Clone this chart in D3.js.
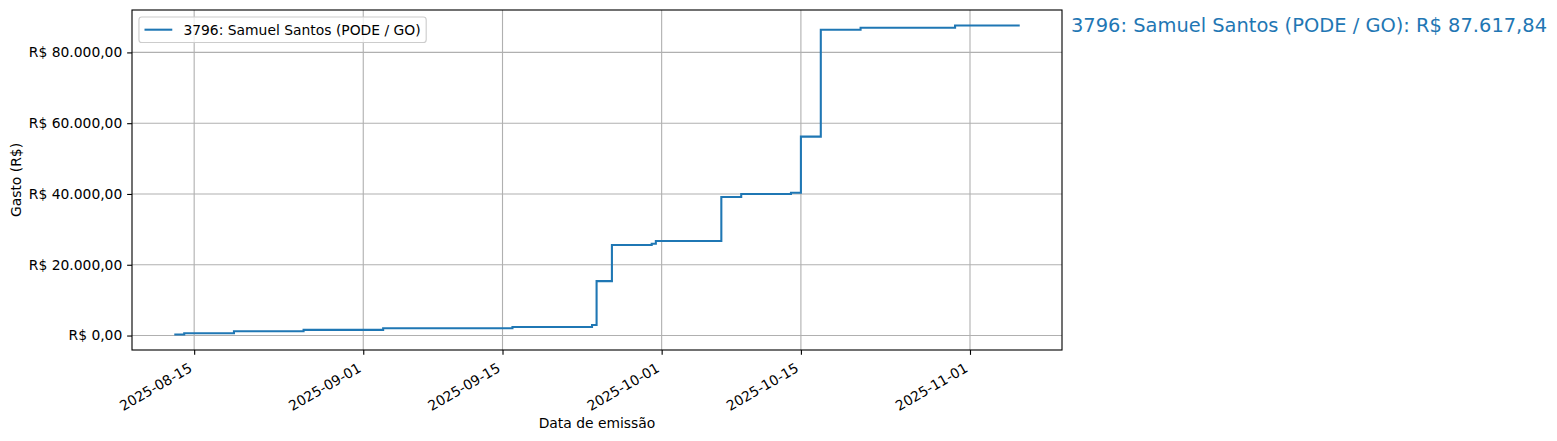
<!DOCTYPE html>
<html>
<head>
<meta charset="utf-8">
<script src="https://cdn.jsdelivr.net/npm/d3@7"></script>
<style>
  html, body { margin: 0; padding: 0; background: #fff; }
  svg { display: block; font-family: "DejaVu Sans", sans-serif; }
</style>
</head>
<body>
<svg id="chart" width="1557" height="441"></svg>
<script>
// ---- data ----
const seriesName = "3796: Samuel Santos (PODE / GO)";
const emissionDates = [
  "2025-08-13T00:00:00Z", "2025-08-14T00:00:00Z", "2025-08-19T00:00:00Z", "2025-08-26T00:00:00Z",
  "2025-09-03T00:00:00Z", "2025-09-16T00:00:00Z", "2025-09-24T00:00:00Z", "2025-09-24T11:00:00Z",
  "2025-09-26T00:00:00Z", "2025-09-30T00:00:00Z", "2025-09-30T10:00:00Z", "2025-10-07T00:00:00Z",
  "2025-10-09T00:00:00Z", "2025-10-14T00:00:00Z", "2025-10-15T00:00:00Z", "2025-10-17T00:00:00Z",
  "2025-10-21T00:00:00Z", "2025-10-30T12:00:00Z", "2025-11-06T00:00:00Z"
];
const cumulativeSpend = [
  280, 650, 1220, 1590,
  2070, 2430, 3000, 15370,
  25560, 25920, 26690, 39140,
  39990, 40360, 56210, 86400,
  86970, 87617.84, 87617.84
];
const xTickLabels = ["2025-08-15", "2025-09-01", "2025-09-15", "2025-10-01", "2025-10-15", "2025-11-01"];
const yTickValues = [0, 20000, 40000, 60000, 80000];
const xAxisTitle = "Data de emissão";
const yAxisTitle = "Gasto (R$)";

// ---- layout ----
const W = 1557, H = 441;
const L = 132, R = 1062, T = 10, B = 350;
const FS = 13.89;
const blue = "#1f77b4";
const LW = 2.08, THIN = 1.11;

const brl = d3.formatLocale({decimal: ",", thousands: ".", grouping: [3], currency: ["R$ ", ""]});
const fmtMoney = brl.format("$,.2f");

const data = emissionDates.map((d, i) => ({date: d3.isoParse(d), value: cumulativeSpend[i]}));

const xExt = d3.extent(data, d => d.date);
const xSpan = xExt[1] - xExt[0];
const x = d3.scaleUtc()
  .domain([new Date(+xExt[0] - 0.05 * xSpan), new Date(+xExt[1] + 0.05 * xSpan)])
  .range([L, R]);

const yExt = d3.extent(data, d => d.value);
const ySpan = yExt[1] - yExt[0];
const y = d3.scaleLinear()
  .domain([yExt[0] - 0.05 * ySpan, yExt[1] + 0.05 * ySpan])
  .range([B, T]);

const svg = d3.select("#chart");

const xTicks = xTickLabels.map(s => d3.isoParse(s + "T00:00:00Z"));

// grid
const grid = svg.append("g").attr("stroke", "#b0b0b0").attr("stroke-width", THIN);
grid.selectAll("line.gx").data(xTicks).join("line")
  .attr("x1", d => x(d)).attr("x2", d => x(d)).attr("y1", T).attr("y2", B);
grid.selectAll("line.gy").data(yTickValues).join("line")
  .attr("x1", L).attr("x2", R).attr("y1", d => y(d)).attr("y2", d => y(d));

// line
const line = d3.line().x(d => x(d.date)).y(d => y(d.value)).curve(d3.curveStepAfter);
svg.append("path").datum(data)
  .attr("d", line)
  .attr("fill", "none")
  .attr("stroke", blue)
  .attr("stroke-width", LW)
  .attr("stroke-linejoin", "miter")
  .attr("stroke-linecap", "butt");

// frame
svg.append("rect").attr("x", L).attr("y", T).attr("width", R - L).attr("height", B - T)
  .attr("fill", "none").attr("stroke", "#000").attr("stroke-width", THIN);

// x axis
const xAxis = d3.axisBottom(x).tickValues(xTicks).tickSize(4.86).tickPadding(4.86)
  .tickFormat((d, i) => xTickLabels[i]);
const gx = svg.append("g").attr("transform", `translate(0,${B})`).call(xAxis);
gx.select(".domain").remove();
gx.selectAll(".tick line").attr("stroke", "#000").attr("stroke-width", THIN);
const textH = 1.164 * FS;
gx.selectAll(".tick text")
  .attr("font-size", FS).attr("fill", "#000").attr("font-family", "DejaVu Sans")
  .attr("text-anchor", "end")
  .attr("x", null).attr("y", null).attr("dy", null)
  .attr("transform", `translate(${-0.5 * textH},${4.86 + 4.86}) rotate(-30) translate(0,${0.928 * FS})`);

// y axis
const yAxis = d3.axisLeft(y).tickValues(yTickValues).tickSize(4.86).tickPadding(4.86).tickFormat(fmtMoney);
const gy = svg.append("g").attr("transform", `translate(${L},0)`).call(yAxis);
gy.select(".domain").remove();
gy.selectAll(".tick line").attr("stroke", "#000").attr("stroke-width", THIN);
gy.selectAll(".tick text").attr("font-size", FS).attr("fill", "#000").attr("font-family", "DejaVu Sans");

// axis titles
svg.append("text").attr("x", (L + R) / 2).attr("y", 428)
  .attr("text-anchor", "middle").attr("font-size", FS).text(xAxisTitle);
svg.append("text").attr("transform", `translate(21,${(T + B) / 2}) rotate(-90)`)
  .attr("text-anchor", "middle").attr("font-size", FS).text(yAxisTitle);

// legend
const lg = svg.append("g");
const lx = L + 0.5 * FS, ly = T + 0.5 * FS;
const legText = lg.append("text").attr("font-size", FS).text(seriesName);
const tw = legText.node().getComputedTextLength();
const lw = 0.4 * FS + 2 * FS + 0.8 * FS + tw + 0.4 * FS;
const lh = 25.5;
lg.insert("rect", "text").attr("x", lx).attr("y", ly).attr("width", lw).attr("height", lh)
  .attr("rx", 2.8).attr("fill", "#fff").attr("fill-opacity", 0.8)
  .attr("stroke", "#cccccc").attr("stroke-width", THIN);
lg.append("line").attr("x1", lx + 0.4 * FS).attr("x2", lx + 0.4 * FS + 2 * FS)
  .attr("y1", ly + lh / 2).attr("y2", ly + lh / 2)
  .attr("stroke", blue).attr("stroke-width", LW);
legText.attr("x", lx + 0.4 * FS + 2.8 * FS).attr("y", ly + lh / 2).attr("dy", "0.36em");

// annotation with total
const last = data[data.length - 1];
svg.append("text").attr("x", R + 9).attr("y", y(last.value)).attr("dy", "0.36em")
  .attr("font-size", 19.44).attr("fill", blue)
  .text(`${seriesName}: ${fmtMoney(last.value)}`);
</script>
</body>
</html>
